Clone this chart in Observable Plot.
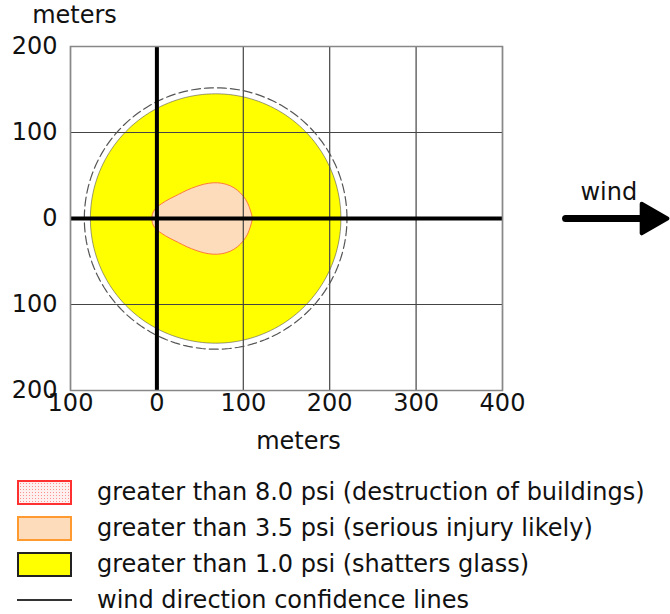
<!DOCTYPE html>
<html><head><meta charset="utf-8">
<script src="https://cdn.jsdelivr.net/npm/d3@7"></script>
<script src="https://cdn.jsdelivr.net/npm/@observablehq/plot@0.6"></script>
<style>
body{margin:0;background:#fff;font-family:"DejaVu Sans",Verdana,sans-serif;color:#111}
#chart{width:670px;height:460px}
#legend{padding-top:14px;font-size:24px}
.row{display:flex;align-items:center;height:36px}
.sw{width:55px;height:25px;margin-left:17px;margin-right:25px;box-sizing:border-box;flex:none}
</style></head><body>
<div id="chart"></div>
<div id="legend"></div>
<script>
// axis ticks (meters)
const xTicks = [-100, 0, 100, 200, 300, 400];
const yTicks = [-200, -100, 0, 100, 200];
// threat zones: [center x, center y, radius] in meters
const glassZone = [68, 0, 145];          // > 1.0 psi
const confidenceCircle = [68, 0, 152];   // wind direction confidence
// > 3.5 psi zone, upper outline (x, y) in meters, mirrored below the axis
const injuryX = [-6, -5, -2, 5, 15, 25, 35, 45, 55, 65, 75, 85, 93, 100, 105, 108, 110, 110];
const injuryY = [0, 6, 11, 17, 23, 28, 33, 37, 40, 41.5, 41, 38, 33, 26, 18, 10, 3, 0];
// wind arrow (meters, beyond the plotted range)
const windArrow = [473, 571];
const windLabelX = 523;
const legendLabels = [
  "greater than 8.0 psi (destruction of buildings)",
  "greater than 3.5 psi (serious injury likely)",
  "greater than 1.0 psi (shatters glass)",
  "wind direction confidence lines"
];

function circlePts([cx, cy, r]) {
  const pts = [];
  for (let i = 0; i <= 180; i++) {
    const a = (i / 180) * 2 * Math.PI;
    pts.push({x: cx + r * Math.cos(a), y: cy + r * Math.sin(a)});
  }
  return pts;
}
const injury = [];
injuryX.forEach((x, i) => injury.push({x, y: injuryY[i]}));
for (let i = injuryX.length - 1; i >= 0; i--) injury.push({x: injuryX[i], y: -injuryY[i]});

const plot = Plot.plot({
  width: 670, height: 460,
  marginLeft: 70, marginRight: 168, marginTop: 46, marginBottom: 70,
  style: {fontFamily: '"DejaVu Sans", Verdana, sans-serif', fontSize: "24px", color: "#111", background: "#fff", overflow: "visible"},
  x: {domain: [-100, 400], ticks: xTicks, tickSize: 0, tickPadding: 3, label: null, tickFormat: d => Math.abs(d)},
  y: {domain: [-200, 200], ticks: yTicks, tickSize: 0, tickPadding: 13, label: null, tickFormat: d => Math.abs(d)},
  marks: [
    Plot.line(circlePts(glassZone), {x: "x", y: "y", fill: "#ffff00", stroke: "#555", strokeWidth: 0.6}),
    Plot.line(injury, {x: "x", y: "y", fill: "#fddcbb", stroke: "#ff7a3a", strokeWidth: 1, curve: "catmull-rom"}),
    Plot.gridX(xTicks, {stroke: "#444", strokeOpacity: 1, strokeWidth: 1.2}),
    Plot.gridY(yTicks, {stroke: "#444", strokeOpacity: 1, strokeWidth: 1.2}),
    Plot.line(circlePts(confidenceCircle), {x: "x", y: "y", stroke: "#555", strokeWidth: 1.2, strokeDasharray: "9,4"}),
    Plot.ruleX([0], {y1: -200, y2: 200, stroke: "#000", strokeWidth: 4}),
    Plot.ruleY([0], {x1: -100, x2: 400, stroke: "#000", strokeWidth: 4}),
    Plot.frame({stroke: "#888", strokeWidth: 1.5}),
    Plot.axisX({ticks: xTicks, tickSize: 0, tickPadding: 3, tickFormat: d => Math.abs(d), label: null}),
    Plot.axisY({ticks: yTicks, tickSize: 0, tickPadding: 13, tickFormat: d => Math.abs(d), label: null}),
    Plot.text(["meters"], {frameAnchor: "top-left", lineAnchor: "middle", dx: 4, dy: -31, textAnchor: "middle", fill: "#111"}),
    Plot.text(["meters"], {frameAnchor: "bottom", lineAnchor: "middle", dx: 12, dy: 51, textAnchor: "middle", fill: "#111"}),
    Plot.link([windArrow], {x1: d => d[0], x2: d => d[1], y1: 0, y2: 0, stroke: "#000", strokeWidth: 7, strokeLinecap: "round"}),
    Plot.dot([windArrow], {x: d => d[1], y: 0, symbol: "triangle", rotate: 90, r: 11, fill: "#000", stroke: "#000", strokeWidth: 4, strokeLinejoin: "round"}),
    Plot.text(["wind"], {x: windLabelX, y: 0, dy: -26, textAnchor: "middle", fill: "#111"})
  ]
});
document.getElementById("chart").appendChild(plot);

const sw = [
  "background:#fff0f0;border:2px solid #ff3030;background-image:radial-gradient(#ff9090 0.6px,transparent 0.8px);background-size:3px 3px",
  "background:#fddcbb;border:2px solid #ff9a30",
  "background:#ffff00;border:2.5px solid #222",
  "height:2px;background:#333"
];
const leg = document.getElementById("legend");
legendLabels.forEach((t, i) => {
  const r = document.createElement("div"); r.className = "row";
  const s = document.createElement("div"); s.className = "sw"; s.style.cssText = sw[i];
  const l = document.createElement("span"); l.textContent = t;
  r.appendChild(s); r.appendChild(l); leg.appendChild(r);
});
</script></body></html>
